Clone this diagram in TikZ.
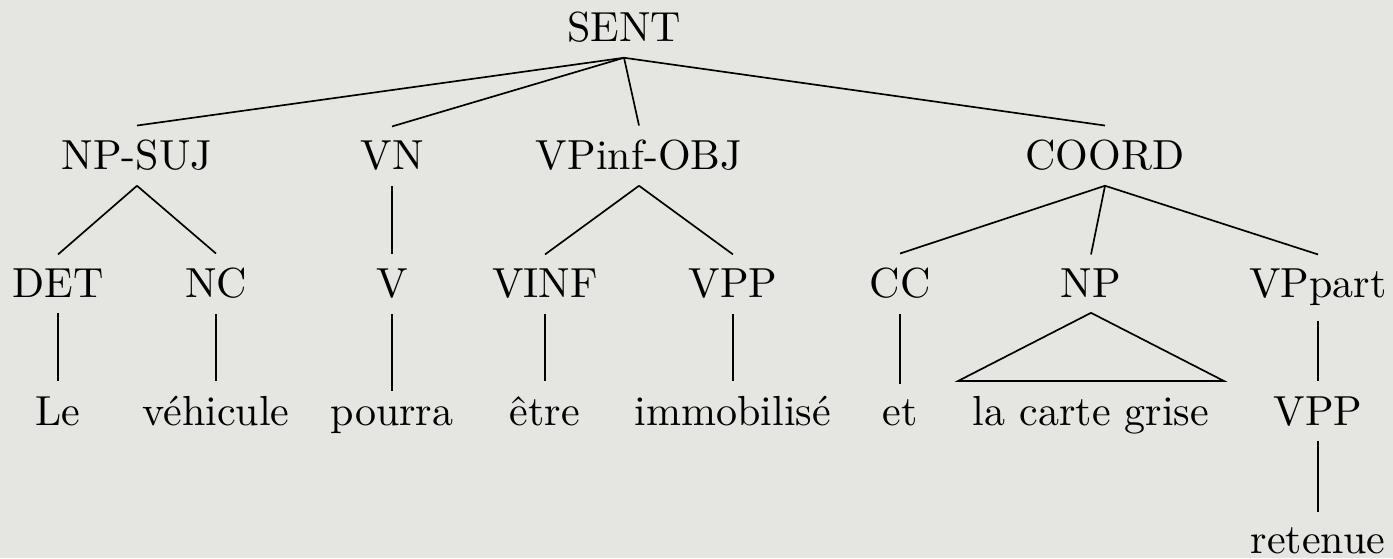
\documentclass[tikz,border=0pt]{standalone}
\usepackage{fontspec}

\newlength{\du}
\setlength{\du}{0.238pt}
\definecolor{papercolor}{rgb}{0.898000, 0.898000, 0.882000}

\begin{document}
\begin{tikzpicture}[cat/.style={anchor=base, inner sep=0.3333em},
                    branch/.style={line width=0.4pt, draw=black}]
\pgftransformxscale{1.000000}
\pgftransformyscale{-1.000000}
\fill[papercolor] (0\du,0\du) rectangle (1393\du,558\du);
\useasboundingbox (0\du,0\du) rectangle (1393\du,558\du);
% root
\node[cat] (sent) at (624\du,42\du){SENT};
% constituents
\node[cat] (npsuj) at (137\du,170\du){NP-SUJ};
\node[cat] (vn) at (392\du,170\du){VN};
\node[cat] (vpinf) at (639\du,170\du){VPinf-OBJ};
\node[cat] (coord) at (1105\du,170\du){COORD};
% pre-terminals
\node[cat] (det) at (58\du,298\du){DET};
\node[cat] (nc) at (216\du,298\du){NC};
\node[cat] (v) at (392\du,298\du){V};
\node[cat] (vinf) at (545\du,298\du){VINF};
\node[cat] (vpp) at (733\du,298\du){VPP};
\node[cat] (cc) at (900\du,298\du){CC};
\node[cat] (np) at (1091\du,298\du){NP};
\node[cat] (vppart) at (1318\du,298\du){VPpart};
% words
\node[cat] (le) at (58\du,425\du){Le};
\node[cat] (vehicule) at (216\du,425\du){véhicule};
\node[cat] (pourra) at (392\du,425\du){pourra};
\node[cat] (etre) at (545\du,425\du){être};
\node[cat] (immobilise) at (733\du,425\du){immobilisé};
\node[cat] (et) at (900\du,425\du){et};
\node[cat] (cartegrise) at (1091\du,425\du){la carte grise};
\node[cat] (vppb) at (1318\du,425\du){VPP};
\node[cat] (retenue) at (1318\du,553\du){retenue};
% branches
\draw[branch] (sent.south)--(npsuj.north);
\draw[branch] (sent.south)--(vn.north);
\draw[branch] (sent.south)--(vpinf.north);
\draw[branch] (sent.south)--(coord.north);
\draw[branch] (npsuj.south)--(det.north);
\draw[branch] (npsuj.south)--(nc.north);
\draw[branch] (vn.south)--(v.north);
\draw[branch] (vpinf.south)--(vinf.north);
\draw[branch] (vpinf.south)--(vpp.north);
\draw[branch] (coord.south)--(cc.north);
\draw[branch] (coord.south)--(np.north);
\draw[branch] (coord.south)--(vppart.north);
\draw[branch] (det.south)--(le.north);
\draw[branch] (nc.south)--(vehicule.north);
\draw[branch] (v.south)--(pourra.north);
\draw[branch] (vinf.south)--(etre.north);
\draw[branch] (vpp.south)--(immobilise.north);
\draw[branch] (cc.south)--(et.north);
\draw[branch] (vppart.south)--(vppb.north);
\draw[branch] (vppb.south)--(retenue.north);
% roof over the NP
\draw[branch] (np.south)--(cartegrise.north west)--(cartegrise.north east)--cycle;
\end{tikzpicture}
\end{document}
